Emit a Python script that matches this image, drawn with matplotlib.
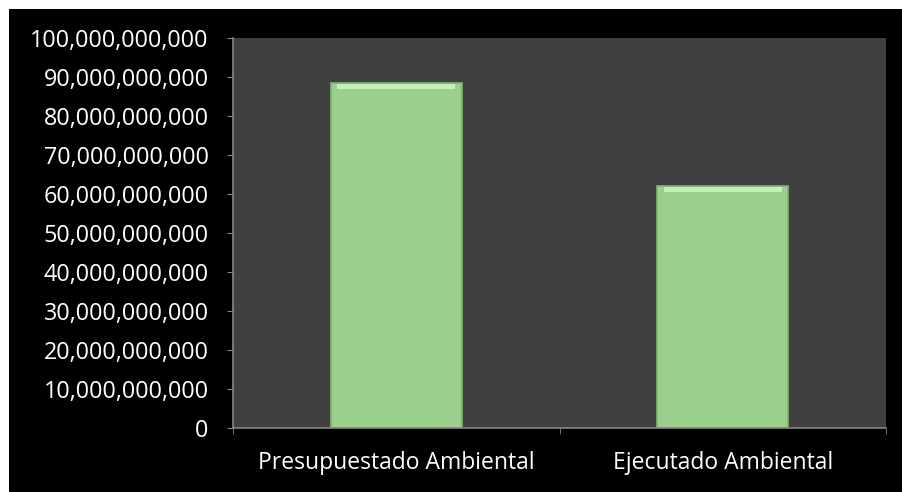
import matplotlib.pyplot as plt
import matplotlib.ticker as mticker
from matplotlib.patches import Rectangle

categories = ["Presupuestado Ambiental", "Ejecutado Ambiental"]
values = [88.5e9, 62.0e9]

plt.rcParams['font.family'] = ['Open Sans', 'DejaVu Sans']

fig = plt.figure(figsize=(9.02, 4.92), dpi=100)
fig.patch.set_facecolor('white')
fig.patches.append(Rectangle((9 / 902, 0), 1, 1 - 9 / 492, transform=fig.transFigure,
                             facecolor='black', edgecolor='none', zorder=-10))

ax = fig.add_axes([233 / 902, 64 / 492, 653 / 902, 390 / 492])
ax.set_facecolor('#404040')

x = range(len(categories))
ax.bar(x, values, width=0.4, color='#9bcf8d', edgecolor='#80b274', linewidth=1.2, zorder=2)
# bevel highlight near the top of each bar
ax.bar(x, [1.3e9] * len(values), bottom=[v - 1.5e9 for v in values], width=0.36,
       color='#c6eeb6', edgecolor='none', zorder=3)

ax.set_ylim(0, 100e9)
ax.set_xlim(-0.5, 1.5)
ax.yaxis.set_major_locator(mticker.MultipleLocator(10e9))
ax.yaxis.set_major_formatter(mticker.FuncFormatter(lambda v, p: f"{int(round(v)):,}"))

ax.set_xticks(list(x))
ax.set_xticklabels(categories)
ax.set_xticks([-0.5, 0.5, 1.5], minor=True)
ax.tick_params(axis='x', which='major', length=0, pad=16.5, labelcolor='white', labelsize=16.5)
ax.tick_params(axis='x', which='minor', length=4.5, color='#868686', direction='out')
ax.tick_params(axis='y', length=4.5, color='#868686', labelcolor='white', labelsize=16.8, pad=13)

for side in ['top', 'right']:
    ax.spines[side].set_visible(False)
for side in ['left', 'bottom']:
    ax.spines[side].set_color('#868686')
    ax.spines[side].set_linewidth(1.2)

fig.savefig('out.png', dpi=100, facecolor=fig.get_facecolor())
